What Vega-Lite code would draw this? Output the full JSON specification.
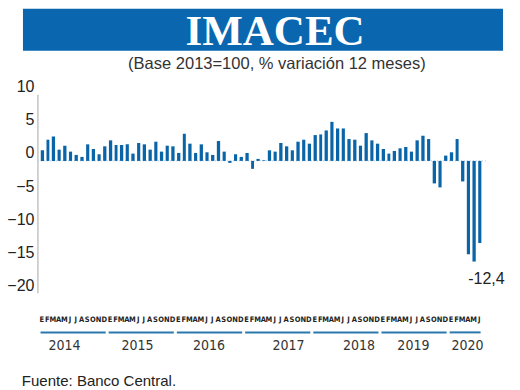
{
  "$schema": "https://vega.github.io/schema/vega-lite/v6.json",
  "width": 520,
  "height": 390,
  "autosize": {"type": "fit", "contains": "padding"},
  "padding": 0,
  "background": "white",
  "config": {"view": {"stroke": null}},
  "datasets": {
    "imacec": [
      {"fecha": "2014-01-01", "mes": "E", "variacion": 1.6},
      {"fecha": "2014-02-01", "mes": "F", "variacion": 3.2},
      {"fecha": "2014-03-01", "mes": "M", "variacion": 3.7},
      {"fecha": "2014-04-01", "mes": "A", "variacion": 1.7},
      {"fecha": "2014-05-01", "mes": "M", "variacion": 2.3},
      {"fecha": "2014-06-01", "mes": "J", "variacion": 1.4},
      {"fecha": "2014-07-01", "mes": "J", "variacion": 0.9},
      {"fecha": "2014-08-01", "mes": "A", "variacion": 0.6},
      {"fecha": "2014-09-01", "mes": "S", "variacion": 2.5},
      {"fecha": "2014-10-01", "mes": "O", "variacion": 1.8},
      {"fecha": "2014-11-01", "mes": "N", "variacion": 1.0},
      {"fecha": "2014-12-01", "mes": "D", "variacion": 2.2},
      {"fecha": "2015-01-01", "mes": "E", "variacion": 3.1},
      {"fecha": "2015-02-01", "mes": "F", "variacion": 2.4},
      {"fecha": "2015-03-01", "mes": "M", "variacion": 2.4},
      {"fecha": "2015-04-01", "mes": "A", "variacion": 2.5},
      {"fecha": "2015-05-01", "mes": "M", "variacion": 1.1},
      {"fecha": "2015-06-01", "mes": "J", "variacion": 2.7},
      {"fecha": "2015-07-01", "mes": "J", "variacion": 2.5},
      {"fecha": "2015-08-01", "mes": "A", "variacion": 1.7},
      {"fecha": "2015-09-01", "mes": "S", "variacion": 2.9},
      {"fecha": "2015-10-01", "mes": "O", "variacion": 1.4},
      {"fecha": "2015-11-01", "mes": "N", "variacion": 2.3},
      {"fecha": "2015-12-01", "mes": "D", "variacion": 2.2},
      {"fecha": "2016-01-01", "mes": "E", "variacion": 1.2},
      {"fecha": "2016-02-01", "mes": "F", "variacion": 4.1},
      {"fecha": "2016-03-01", "mes": "M", "variacion": 2.6},
      {"fecha": "2016-04-01", "mes": "A", "variacion": 1.2},
      {"fecha": "2016-05-01", "mes": "M", "variacion": 2.5},
      {"fecha": "2016-06-01", "mes": "J", "variacion": 1.3},
      {"fecha": "2016-07-01", "mes": "J", "variacion": 0.9},
      {"fecha": "2016-08-01", "mes": "A", "variacion": 3.0},
      {"fecha": "2016-09-01", "mes": "S", "variacion": 1.4},
      {"fecha": "2016-10-01", "mes": "O", "variacion": -0.3},
      {"fecha": "2016-11-01", "mes": "N", "variacion": 1.0},
      {"fecha": "2016-12-01", "mes": "D", "variacion": 0.6},
      {"fecha": "2017-01-01", "mes": "E", "variacion": 1.2},
      {"fecha": "2017-02-01", "mes": "F", "variacion": -1.2},
      {"fecha": "2017-03-01", "mes": "M", "variacion": 0.3},
      {"fecha": "2017-04-01", "mes": "A", "variacion": 0.1},
      {"fecha": "2017-05-01", "mes": "M", "variacion": 1.6},
      {"fecha": "2017-06-01", "mes": "J", "variacion": 1.4},
      {"fecha": "2017-07-01", "mes": "J", "variacion": 2.7},
      {"fecha": "2017-08-01", "mes": "A", "variacion": 2.2},
      {"fecha": "2017-09-01", "mes": "S", "variacion": 1.6},
      {"fecha": "2017-10-01", "mes": "O", "variacion": 2.9},
      {"fecha": "2017-11-01", "mes": "N", "variacion": 3.2},
      {"fecha": "2017-12-01", "mes": "D", "variacion": 2.6},
      {"fecha": "2018-01-01", "mes": "E", "variacion": 3.9},
      {"fecha": "2018-02-01", "mes": "F", "variacion": 4.0},
      {"fecha": "2018-03-01", "mes": "M", "variacion": 4.6},
      {"fecha": "2018-04-01", "mes": "A", "variacion": 5.9},
      {"fecha": "2018-05-01", "mes": "M", "variacion": 4.9},
      {"fecha": "2018-06-01", "mes": "J", "variacion": 4.9},
      {"fecha": "2018-07-01", "mes": "J", "variacion": 3.3},
      {"fecha": "2018-08-01", "mes": "A", "variacion": 3.2},
      {"fecha": "2018-09-01", "mes": "S", "variacion": 2.3},
      {"fecha": "2018-10-01", "mes": "O", "variacion": 4.2},
      {"fecha": "2018-11-01", "mes": "N", "variacion": 3.1},
      {"fecha": "2018-12-01", "mes": "D", "variacion": 2.6},
      {"fecha": "2019-01-01", "mes": "E", "variacion": 1.8},
      {"fecha": "2019-02-01", "mes": "F", "variacion": 1.1},
      {"fecha": "2019-03-01", "mes": "M", "variacion": 1.5},
      {"fecha": "2019-04-01", "mes": "A", "variacion": 1.9},
      {"fecha": "2019-05-01", "mes": "M", "variacion": 2.1},
      {"fecha": "2019-06-01", "mes": "J", "variacion": 1.4},
      {"fecha": "2019-07-01", "mes": "J", "variacion": 3.1},
      {"fecha": "2019-08-01", "mes": "A", "variacion": 3.8},
      {"fecha": "2019-09-01", "mes": "S", "variacion": 3.3},
      {"fecha": "2019-10-01", "mes": "O", "variacion": -3.4},
      {"fecha": "2019-11-01", "mes": "N", "variacion": -4.0},
      {"fecha": "2019-12-01", "mes": "D", "variacion": 0.8},
      {"fecha": "2020-01-01", "mes": "E", "variacion": 1.3},
      {"fecha": "2020-02-01", "mes": "F", "variacion": 3.3},
      {"fecha": "2020-03-01", "mes": "M", "variacion": -3.1},
      {"fecha": "2020-04-01", "mes": "A", "variacion": -14.1},
      {"fecha": "2020-05-01", "mes": "M", "variacion": -15.2},
      {"fecha": "2020-06-01", "mes": "J", "variacion": -12.4}
    ],
    "anios": [
      {"anio": "2014", "inicio": "2014-01-01", "fin": "2015-01-01", "centro": "2014-05-17"},
      {"anio": "2015", "inicio": "2015-01-01", "fin": "2016-01-01", "centro": "2015-06-12"},
      {"anio": "2016", "inicio": "2016-01-01", "fin": "2017-01-01", "centro": "2016-06-29"},
      {"anio": "2017", "inicio": "2017-01-01", "fin": "2018-01-01", "centro": "2017-08-29"},
      {"anio": "2018", "inicio": "2018-01-01", "fin": "2019-01-01", "centro": "2018-09-11"},
      {"anio": "2019", "inicio": "2019-01-01", "fin": "2020-01-01", "centro": "2019-06-29"},
      {"anio": "2020", "inicio": "2020-01-01", "fin": "2020-07-01", "centro": "2020-04-14"}
    ]
  },
  "layer": [
    {
      "data": {"values": [{}]},
      "mark": {"type": "rect", "color": "#0a66ae"},
      "encoding": {
        "x": {"datum": {"year": 2013, "month": 10, "date": 7, "utc": true}, "type": "temporal", "axis": null},
        "x2": {"datum": {"year": 2020, "month": 10, "date": 21, "utc": true}},
        "y": {"datum": 22.96, "type": "quantitative"},
        "y2": {"datum": 16.62}
      }
    },
    {
      "data": {"values": [{}]},
      "mark": {"type": "text", "text": "IMACEC", "font": "Liberation Serif", "fontWeight": "bold", "fontSize": 43, "color": "white", "align": "center", "baseline": "alphabetic"},
      "encoding": {
        "x": {"datum": {"year": 2017, "month": 6, "date": 18, "utc": true}, "type": "temporal", "axis": null},
        "y": {"datum": 17.52, "type": "quantitative"}
      }
    },
    {
      "data": {"values": [{}]},
      "mark": {"type": "text", "text": "(Base 2013=100, % variación 12 meses)", "font": "Liberation Sans", "fontSize": 16.5, "color": "#333333", "align": "center", "baseline": "alphabetic"},
      "encoding": {
        "x": {"datum": {"year": 2017, "month": 6, "date": 28, "utc": true}, "type": "temporal", "axis": null},
        "y": {"datum": 13.9, "type": "quantitative"}
      }
    },
    {
      "data": {"values": [{}]},
      "mark": {"type": "rule", "color": "#a8c6e0", "strokeDash": [1, 2], "strokeWidth": 1},
      "encoding": {
        "x": {"datum": {"year": 2013, "month": 12, "date": 26, "utc": true}, "type": "temporal", "axis": null},
        "x2": {"datum": {"year": 2020, "month": 8, "date": 1, "utc": true}},
        "y": {"datum": 0, "type": "quantitative"}
      }
    },
    {
      "data": {"name": "imacec"},
      "mark": {"type": "bar", "color": "#0a64a8", "width": {"band": 0.74}},
      "encoding": {
        "x": {
          "field": "fecha",
          "type": "temporal",
          "timeUnit": "utcyearmonth",
          "axis": null,
          "scale": {"type": "utc", "domain": [{"year": 2013, "month": 6, "date": 6, "utc": true}, {"year": 2021, "month": 1, "date": 20, "utc": true}]}
        },
        "y": {
          "field": "variacion",
          "type": "quantitative",
          "scale": {"domain": [-34.6, 24.3], "nice": false, "zero": false},
          "axis": {
            "title": null,
            "values": [-20, -15, -10, -5, 0, 5, 10],
            "domain": false,
            "ticks": false,
            "grid": false,
            "offset": -38,
            "labelPadding": 4,
            "labelFont": "Liberation Sans",
            "labelFontSize": 16,
            "labelColor": "#222222",
            "labelOffset": -8
          }
        }
      }
    },
    {
      "data": {"values": [{}]},
      "mark": {"type": "rule", "color": "#c4c4c4", "strokeWidth": 1.5},
      "encoding": {
        "x": {"datum": {"year": 2013, "month": 12, "date": 26, "utc": true}, "type": "temporal", "axis": null},
        "y": {"datum": 10, "type": "quantitative"},
        "y2": {"datum": -20}
      }
    },
    {
      "data": {"name": "imacec"},
      "mark": {"type": "text", "font": "DejaVu Sans Condensed, Liberation Sans", "fontWeight": "bold", "fontSize": 7.5, "color": "#222222", "baseline": "alphabetic", "align": "center"},
      "encoding": {
        "x": {"field": "fecha", "type": "temporal", "timeUnit": "utcyearmonth", "bandPosition": 0.5, "axis": null},
        "y": {"datum": -24.27, "type": "quantitative"},
        "text": {"field": "mes"}
      }
    },
    {
      "data": {"name": "anios"},
      "mark": {"type": "rule", "color": "#2a78ad", "strokeWidth": 2, "xOffset": 1.5, "x2Offset": -1.5},
      "encoding": {
        "x": {"field": "inicio", "type": "temporal", "axis": null},
        "x2": {"field": "fin"},
        "y": {"datum": -25.9, "type": "quantitative"}
      }
    },
    {
      "data": {"name": "anios"},
      "mark": {"type": "text", "font": "DejaVu Sans Condensed, Liberation Sans", "fontSize": 14, "color": "#333333", "baseline": "alphabetic", "align": "center"},
      "encoding": {
        "x": {"field": "centro", "type": "temporal", "axis": null},
        "y": {"datum": -28.55, "type": "quantitative"},
        "text": {"field": "anio"}
      }
    },
    {
      "data": {"values": [{}]},
      "mark": {"type": "text", "text": "-12,4", "font": "Liberation Sans", "fontSize": 16, "color": "#222222", "align": "center", "baseline": "alphabetic"},
      "encoding": {
        "x": {"datum": {"year": 2020, "month": 7, "date": 24, "utc": true}, "type": "temporal", "axis": null},
        "y": {"datum": -18.66, "type": "quantitative"}
      }
    },
    {
      "data": {"values": [{}]},
      "mark": {"type": "text", "text": "Fuente: Banco Central.", "font": "Liberation Sans", "fontSize": 15, "color": "#222222", "align": "left", "baseline": "alphabetic"},
      "encoding": {
        "x": {"datum": {"year": 2013, "month": 10, "date": 1, "utc": true}, "type": "temporal", "axis": null},
        "y": {"datum": -34.06, "type": "quantitative"}
      }
    }
  ]
}
